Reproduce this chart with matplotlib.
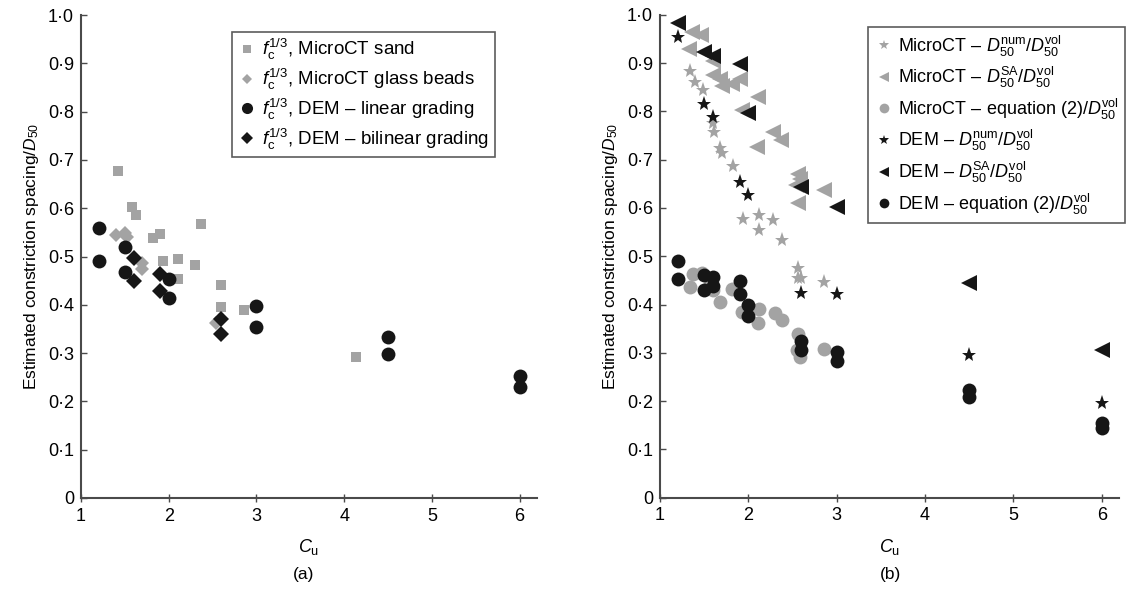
import matplotlib
matplotlib.use("Agg")
import matplotlib.pyplot as plt

plt.rcParams['font.family'] = ['Liberation Sans', 'DejaVu Sans']
plt.rcParams['mathtext.fontset'] = 'custom'
plt.rcParams['mathtext.rm'] = 'Liberation Sans'
plt.rcParams['mathtext.it'] = 'Liberation Sans:italic'
plt.rcParams['mathtext.bf'] = 'Liberation Sans:bold'

# ---------------- data: panel (a) ----------------
sand_x = [1.425, 1.585, 1.627, 1.817, 1.90, 1.94, 2.11, 2.106, 2.30, 2.368, 2.60, 2.60, 2.855, 4.136]
sand_y = [0.678, 0.603, 0.586, 0.538, 0.547, 0.491, 0.495, 0.453, 0.483, 0.568, 0.442, 0.395, 0.390, 0.292]
beads_x = [1.40, 1.50, 1.52, 1.70, 1.69, 2.54]
beads_y = [0.544, 0.549, 0.540, 0.487, 0.474, 0.362]
dem_lin_x = [1.2, 1.2, 1.5, 1.5, 2.0, 2.0, 3.0, 3.0, 4.5, 4.5, 6.0, 6.0]
dem_lin_y = [0.560, 0.491, 0.520, 0.467, 0.454, 0.415, 0.397, 0.355, 0.333, 0.298, 0.252, 0.229]
dem_bil_x = [1.6, 1.6, 1.9, 1.9, 2.6, 2.6]
dem_bil_y = [0.497, 0.449, 0.464, 0.429, 0.371, 0.340]

# ---------------- data: panel (b) ----------------
mct_num_x = [1.34, 1.40, 1.49, 1.60, 1.61, 1.68, 1.70, 1.83, 1.94, 2.12, 2.12, 2.28, 2.375, 2.566, 2.566, 2.60, 2.86]
mct_num_y = [0.884, 0.861, 0.845, 0.775, 0.758, 0.724, 0.713, 0.687, 0.578, 0.585, 0.555, 0.576, 0.533, 0.476, 0.455, 0.455, 0.446]
mct_sa_x = [1.36, 1.46, 1.33, 1.60, 1.60, 1.68, 1.70, 1.81, 1.90, 2.11, 1.925, 2.28, 2.37, 2.095, 2.566, 2.58, 2.566, 2.54, 2.85]
mct_sa_y = [0.965, 0.957, 0.928, 0.904, 0.876, 0.866, 0.852, 0.856, 0.866, 0.830, 0.803, 0.758, 0.741, 0.727, 0.671, 0.660, 0.611, 0.648, 0.638]
mct_eq_x = [1.377, 1.34, 1.47, 1.60, 1.57, 1.68, 1.81, 1.925, 2.125, 2.11, 2.30, 2.375, 2.566, 2.55, 2.585, 2.86]
mct_eq_y = [0.463, 0.437, 0.465, 0.430, 0.440, 0.406, 0.433, 0.385, 0.390, 0.361, 0.383, 0.368, 0.338, 0.306, 0.292, 0.307]
dem_num_x = [1.2, 1.5, 1.6, 1.9, 2.0, 2.6, 3.0, 4.5, 6.0]
dem_num_y = [0.954, 0.815, 0.788, 0.653, 0.627, 0.424, 0.421, 0.295, 0.197]
dem_sa_x = [1.2, 1.5, 1.6, 1.9, 2.0, 2.6, 3.0, 4.5, 6.0]
dem_sa_y = [0.982, 0.923, 0.915, 0.899, 0.797, 0.644, 0.601, 0.444, 0.306]
dem_eq_x = [1.2, 1.2, 1.5, 1.5, 1.6, 1.6, 1.9, 1.9, 2.0, 2.0, 2.6, 2.6, 3.0, 3.0, 4.5, 4.5, 6.0, 6.0]
dem_eq_y = [0.491, 0.452, 0.461, 0.431, 0.458, 0.438, 0.449, 0.422, 0.399, 0.376, 0.324, 0.306, 0.301, 0.283, 0.222, 0.209, 0.154, 0.144]

x_ticks = [1, 2, 3, 4, 5, 6]
x_tick_labels = ['1', '2', '3', '4', '5', '6']
y_ticks = [0, 0.1, 0.2, 0.3, 0.4, 0.5, 0.6, 0.7, 0.8, 0.9, 1.0]
y_tick_labels = ['0', '0·1', '0·2', '0·3', '0·4', '0·5', '0·6', '0·7', '0·8', '0·9', '1·0']

GRAY = '#a3a3a3'
BLACK = '#161616'
SPINE = '#4a4a4a'
FS_TICK = 13
FS_LEG = 13.5

fig = plt.figure(figsize=(11.4, 5.89), dpi=100)
axA = fig.add_axes([0.0711, 0.1545, 0.400, 0.820])
axB = fig.add_axes([0.579, 0.1550, 0.403, 0.820])

def style(ax):
    ax.set_xlim(1, 6.2)
    ax.set_ylim(0, 1.0)
    ax.set_xticks(x_ticks)
    ax.set_xticklabels(x_tick_labels)
    ax.set_yticks(y_ticks)
    ax.set_yticklabels(y_tick_labels)
    for s in ['top', 'right']:
        ax.spines[s].set_visible(False)
    for s in ['left', 'bottom']:
        ax.spines[s].set_color(SPINE)
        ax.spines[s].set_linewidth(1.5)
    ax.tick_params(axis='y', direction='in', length=4, width=1, color=SPINE, labelsize=FS_TICK, pad=5)
    ax.tick_params(axis='x', direction='inout', length=6, width=1, color=SPINE, labelsize=FS_TICK, pad=4)
    ax.set_ylabel('Estimated constriction spacing/$D_{50}$', fontsize=12.5, labelpad=5)
    ax.set_xlabel('$C_{\\rm u}$', fontsize=13, labelpad=9)

style(axA)
style(axB)

kw = dict(linestyle='none', markeredgewidth=0)
lab = r'$f_{\rm c}^{1/3}$'
axA.plot(sand_x, sand_y, marker='s', ms=7, color=GRAY, label=lab + ', MicroCT sand', **kw)
axA.plot(beads_x, beads_y, marker='D', ms=7, color=GRAY, label=lab + ', MicroCT glass beads', **kw)
axA.plot(dem_lin_x, dem_lin_y, marker='o', ms=10, color=BLACK, label=lab + ', DEM – linear grading', **kw)
axA.plot(dem_bil_x, dem_bil_y, marker='D', ms=8, color=BLACK, label=lab + ', DEM – bilinear grading', **kw)

legA = axA.legend(loc='upper left', bbox_to_anchor=(0.310, 0.985), fontsize=FS_LEG, frameon=True,
                  fancybox=False, edgecolor='#333333', handletextpad=0.3, borderpad=0.3,
                  labelspacing=0.25, handlelength=1.0, markerscale=0.8)
legA.get_frame().set_linewidth(1.2)

axB.plot(mct_num_x, mct_num_y, marker='*', ms=11, color=GRAY, label=r'MicroCT – $D_{50}^{\rm num}/D_{50}^{\rm vol}$', **kw)
axB.plot(mct_sa_x, mct_sa_y, marker='<', ms=11, color=GRAY, label=r'MicroCT – $D_{50}^{\rm SA}/D_{50}^{\rm vol}$', **kw)
axB.plot(mct_eq_x, mct_eq_y, marker='o', ms=10, color=GRAY, label=r'MicroCT – equation (2)/$D_{50}^{\rm vol}$', **kw)
axB.plot(dem_num_x, dem_num_y, marker='*', ms=11, color=BLACK, label=r'DEM – $D_{50}^{\rm num}/D_{50}^{\rm vol}$', **kw)
axB.plot(dem_sa_x, dem_sa_y, marker='<', ms=11, color=BLACK, label=r'DEM – $D_{50}^{\rm SA}/D_{50}^{\rm vol}$', **kw)
axB.plot(dem_eq_x, dem_eq_y, marker='o', ms=10, color=BLACK, label=r'DEM – equation (2)/$D_{50}^{\rm vol}$', **kw)

legB = axB.legend(loc='upper right', bbox_to_anchor=(1.032, 0.993), fontsize=13, frameon=True,
                  fancybox=False, edgecolor='#333333', handletextpad=0.3, borderpad=0.35,
                  labelspacing=0.36, handlelength=1.0, markerscale=0.7)
legB.get_frame().set_linewidth(1.2)

fig.text(0.2667, 0.024, '(a)', ha='center', va='center', fontsize=12.5)
fig.text(0.7813, 0.024, '(b)', ha='center', va='center', fontsize=12.5)

fig.savefig('out.png', dpi=100)
